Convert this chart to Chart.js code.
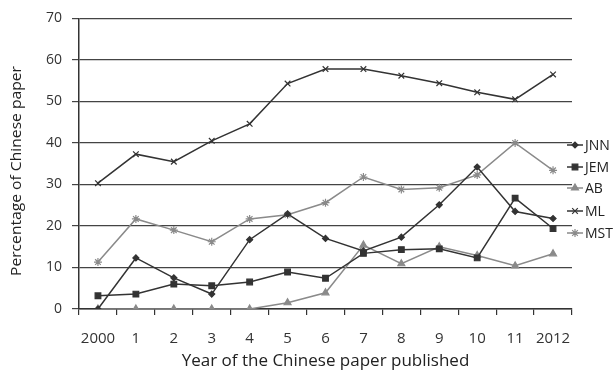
<!DOCTYPE html>
<html>
<head>
<meta charset="utf-8">
<script src="https://cdn.jsdelivr.net/npm/chart.js@4/dist/chart.umd.min.js"></script>
<style>
  html, body { margin: 0; padding: 0; background: #fff; }
  #wrap { width: 615px; height: 376px; }
</style>
</head>
<body>
<div id="wrap"><canvas id="chart" width="615" height="376"></canvas></div>
<script>
const years = ['2000', '1', '2', '3', '4', '5', '6', '7', '8', '9', '10', '11', '2012'];
const jnn = [0, 12.3, 7.5, 3.6, 16.7, 22.9, 17.0, 14.0, 17.3, 25.1, 34.2, 23.5, 21.8];
const jem = [3.2, 3.6, 6.0, 5.6, 6.5, 8.9, 7.4, 13.4, 14.3, 14.5, 12.3, 26.7, 19.4];
const ab = [0, 0, 0, 0, 0, 1.5, 3.9, 15.4, 10.9, 15.0, 12.9, 10.4, 13.3];
const ml = [30.3, 37.3, 35.5, 40.5, 44.6, 54.3, 57.8, 57.8, 56.2, 54.4, 52.2, 50.5, 56.5];
const mst = [11.3, 21.7, 19.0, 16.2, 21.7, 22.7, 25.6, 31.8, 28.8, 29.2, 32.3, 40.0, 33.4];

const yTitle = 'Percentage of Chinese paper';
const xTitle = 'Year of the Chinese paper published';

const DARK = '#333333';
const GREY = '#8a8a8a';
const FONT = '"Open Sans", "DejaVu Sans", sans-serif';

function series(label, data, color, style, radius) {
    return {
        label: label,
        data: data,
        borderColor: color,
        backgroundColor: color,
        borderWidth: 1.5,
        pointStyle: style,
        pointRadius: radius,
        pointBorderWidth: 1.2,
        pointBorderColor: color,
        pointBackgroundColor: color,
        tension: 0
    };
}

const datasets = [
    series('JNN', jnn, DARK, 'rectRot', 3),
    series('JEM', jem, DARK, 'rect', 4),
    series('AB', ab, GREY, 'triangle', 4),
    series('ML', ml, DARK, 'crossRot', 4),
    series('MST', mst, GREY, 'star', 4)
];

// legend at the right edge: line + marker + label
const sideLegend = {
    id: 'sideLegend',
    afterDraw(chart) {
        const ctx = chart.ctx;
        const x0 = 567, x1 = 583, tx = 585;
        const ys = [145, 167, 188, 211, 233];
        ctx.save();
        chart.data.datasets.forEach((ds, i) => {
            const y = ys[i];
            ctx.strokeStyle = ds.borderColor;
            ctx.fillStyle = ds.borderColor;
            ctx.lineWidth = 1.5;
            ctx.beginPath();
            ctx.moveTo(x0, y);
            ctx.lineTo(x1, y);
            ctx.stroke();
            ctx.lineWidth = 1.2;
            Chart.helpers.drawPoint(ctx, {
                pointStyle: ds.pointStyle,
                radius: ds.pointRadius,
                borderWidth: 1.2,
                rotation: 0
            }, (x0 + x1) / 2, y);
            ctx.fillStyle = '#222';
            ctx.font = '14px ' + FONT;
            ctx.textAlign = 'left';
            ctx.textBaseline = 'middle';
            ctx.fillText(ds.label, tx, y + 1);
        });
        ctx.restore();
    }
};

// rotated y-axis title, squeezed a little along its length like the source
const yAxisTitle = {
    id: 'yAxisTitle',
    afterDraw(chart) {
        const ctx = chart.ctx;
        ctx.save();
        ctx.font = '14px ' + FONT;
        ctx.fillStyle = '#222';
        ctx.textAlign = 'center';
        ctx.textBaseline = 'middle';
        const w = ctx.measureText(yTitle).width;
        ctx.translate(17, 171);
        ctx.rotate(-Math.PI / 2);
        ctx.scale(210 / w, 1);
        ctx.fillText(yTitle, 0, 0);
        ctx.restore();
    }
};

new Chart(document.getElementById('chart'), {
    type: 'line',
    data: { labels: years, datasets: datasets },
    options: {
        responsive: false,
        animation: false,
        devicePixelRatio: 1,
        layout: { padding: { left: 0, right: 43, top: 15, bottom: 0 } },
        plugins: {
            legend: { display: false },
            tooltip: { enabled: false }
        },
        scales: {
            x: {
                type: 'category',
                offset: true,
                grid: {
                    display: true,
                    offset: true,
                    drawOnChartArea: false,
                    drawTicks: true,
                    tickLength: 6,
                    color: DARK,
                    lineWidth: 1.2
                },
                border: { display: true, color: DARK, width: 1.5 },
                ticks: {
                    color: '#333',
                    font: { family: FONT, size: 15 },
                    padding: 15,
                    maxRotation: 0,
                    autoSkip: false
                },
                title: {
                    display: true,
                    text: xTitle,
                    color: '#222',
                    font: { family: FONT, size: 17 },
                    padding: { top: 0, bottom: 5 }
                },
                afterFit(scale) { scale.height = 67; }
            },
            y: {
                min: 0,
                max: 70,
                grid: {
                    color: '#444',
                    lineWidth: 1.2,
                    drawTicks: true,
                    tickLength: 7
                },
                border: { display: true, color: DARK, width: 1.5 },
                ticks: {
                    stepSize: 10,
                    color: '#333',
                    font: { family: FONT, size: 14 },
                    padding: 10
                },
                afterFit(scale) { scale.width = 79; }
            }
        }
    },
    plugins: [sideLegend, yAxisTitle]
});
</script>
</body>
</html>
